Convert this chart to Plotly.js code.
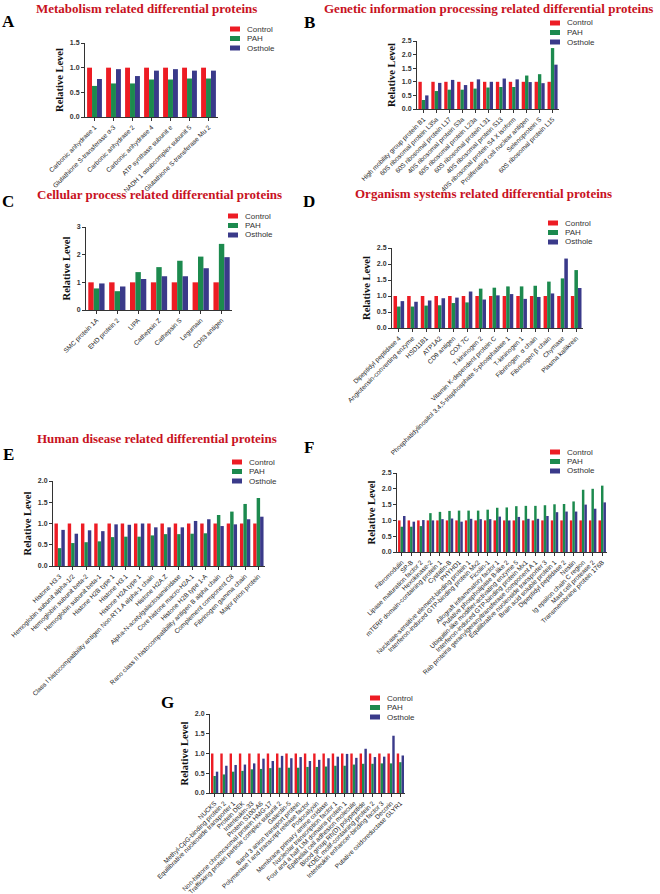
<!DOCTYPE html>
<html>
<head>
<meta charset="utf-8">
<script src="https://cdn.plot.ly/plotly-3.0.1.min.js"></script>
<style>body{margin:0;background:#fff;}</style>
</head>
<body>
<div id="fig" style="width:660px;height:894px"></div>
<script>
var series = ['Control', 'PAH', 'Osthole'];

// A - metabolism
var catA = ['Carbonic anhydrase 1', 'Glutathione S-transferase α-3', 'Carbonic anhydrase 2', 'Carbonic anhydrase 4',
    'ATP synthase subunit e', 'NADH 1 αsubcomplex subunit 5', 'Glutathione S-transferase Mu 2'];
var ctrlA = [1, 1, 1, 1, 1, 1, 1];
var pahA = [0.63, 0.68, 0.68, 0.76, 0.76, 0.78, 0.78];
var ostA = [0.77, 0.97, 0.83, 0.94, 0.97, 0.94, 0.94];

// B - genetic information processing
var catB = ['High mobility group protein B1', '60S ribosomal protein L35a', '60S ribosomal protein L17',
    '40S ribosomal protein S3a', '60S ribosomal protein L23a', '60S ribosomal protein L31', '40S ribosomal protein S13',
    '40S ribosomal protein S4 X isoform', 'Proliferating cell nuclear antigen', 'Selenoprotein S', '60S ribosomal protein L15'];
var ctrlB = [1, 1, 1, 1, 1, 1, 1, 1, 1, 1, 1];
var pahB = [0.33, 0.66, 0.71, 0.71, 0.75, 0.79, 0.81, 0.81, 1.23, 1.28, 2.24];
var ostB = [0.5, 0.96, 1.07, 0.88, 1.09, 1.0, 1.12, 1.09, 0.99, 0.95, 1.63];

// C - cellular process
var catC = ['SMC protein 1A', 'EHD protein 2', 'LIPA', 'Cathepsin Z', 'Cathepsin S', 'Legumain', 'CD63 antigen'];
var ctrlC = [1, 1, 1, 1, 1, 1, 1];
var pahC = [0.78, 0.68, 1.37, 1.55, 1.78, 1.93, 2.39];
var ostC = [0.96, 0.85, 1.12, 1.22, 1.22, 1.51, 1.91];

// D - organism systems
var catD = ['Dipeptidyl peptidase 4', 'Angiotensin-converting enzyme', 'HSD11B1', 'ATP1A2', 'CD9 antigen', 'COX 7C',
    'T-kininogen 2', 'Vitamin K-dependent protein C', 'Phosphatidylinositol 3,4,5-trisphosphate 5-phosphatase 1',
    'T-kininogen 1', 'Fibrinogen  α chain', 'Fibrinogen β chain', 'Chymase', 'Plasma kallikrein'];
var ctrlD = [1, 1, 1, 1, 1, 1, 1, 1, 1, 1, 1, 1, 1, 1];
var pahD = [0.67, 0.67, 0.70, 0.71, 0.78, 0.80, 1.23, 1.26, 1.30, 1.30, 1.32, 1.45, 1.55, 1.81];
var ostD = [0.84, 0.82, 0.86, 0.93, 0.95, 1.14, 0.89, 1.02, 1.06, 0.91, 0.97, 1.08, 2.17, 1.25];

// E - human disease
var catE = ['Histone H3.3', 'Hemoglobin subunit alpha-1/2', 'Hemoglobin subunit beta-2', 'Hemoglobin subunit beta-1',
    'Histone H2B type 1', 'Histone H3.1', 'Histone H2A type 1', 'Class I histocompatibility antigen Non-RT1.A alpha-1 chain',
    'Histone H2A.Z', 'Alpha-N-acetylgalactosaminidase', 'Core histone macro-H2A.1', 'Histone H2B type 1-A',
    'Rano class II histocompatibility antigen B alpha chain', 'Complement component C8', 'Fibrinogen gamma chain',
    'Major prion protein'];
var ctrlE = [1, 1, 1, 1, 1, 1, 1, 1, 1, 1, 1, 1, 1, 1, 1, 1];
var pahE = [0.42, 0.54, 0.56, 0.58, 0.68, 0.69, 0.69, 0.72, 0.75, 0.75, 0.76, 0.77, 1.2, 1.28, 1.46, 1.6];
var ostE = [0.85, 0.76, 0.84, 0.82, 0.98, 0.97, 1.0, 0.91, 0.91, 0.91, 1.06, 1.10, 0.94, 0.98, 1.10, 1.16];

// F
var catF = ['Fibromodulin', 'SP-B', 'Lipase maturation factor 2', 'Hexokinase-2', 'mTERF domain-containing protein 1',
    'Cystatin-B', 'PHYHD1', 'Nuclease-sensitive element-binding protein 1', 'Interferon-induced GTP-binding protein Mx2',
    'Ficolin-1', 'Allograft inflammatory factor 1', 'Putative phospholipase B-like 2',
    'Ubiquitin-like modifier-activating enzyme 5', 'Interferon-induced GTP-binding protein Mx1',
    'Rab proteins geranylgeranyltransferase component A 1', 'Equilibrative nucleoside transporter 3',
    'Brain acid soluble protein 1', 'Dipeptidyl peptidase 2', 'Nestin', 'Ig epsilon chain C region',
    'Mast cell protease 2', 'Transmembrane protein 176B'];
var ctrlF = [1, 1, 1, 1, 1, 1, 1, 1, 1, 1, 1, 1, 1, 1, 1, 1, 1, 1, 1, 1, 1, 1];
var pahF = [0.8, 0.8, 0.82, 1.23, 1.27, 1.3, 1.31, 1.31, 1.31, 1.34, 1.4, 1.41, 1.45, 1.46, 1.46, 1.48, 1.51, 1.52,
    1.6, 1.97, 2.0, 2.1];
var ostF = [1.14, 0.96, 1.01, 1.0, 1.04, 1.06, 0.96, 1.05, 1.04, 1.04, 1.12, 1.0, 1.11, 1.05, 1.05, 1.14, 1.26, 1.28,
    1.28, 1.5, 1.37, 1.57];

// G
var catG = ['NUCKS', 'Methyl-CpG-binding protein 2', 'Equilibrative nucleoside transporter 1', 'Protein DEK',
    'Interleukin-33', 'Protein S100-A6', 'Non-histone chromosomal protein HMG-17',
    'Trafficking protein particle complex subunit 2', 'Galectin-5', 'Band 3 anion transport protein',
    'Polymerase I and transcript release factor', 'Podocalyxin', 'Membrane primary amine oxidase',
    'Nucleolar transcription factor 1', 'Four and a half LIM domains protein 1', 'Epithelial cell adhesion molecule',
    'Blood group Rh(D) polypeptide', 'KDEL motif-containing protein 2', 'Interleukin enhancer-binding factor 3',
    'Decorin', 'Putative oxidoreductase GLYR1'];
var ctrlG = [1, 1, 1, 1, 1, 1, 1, 1, 1, 1, 1, 1, 1, 1, 1, 1, 1, 1, 1, 1, 1];
var pahG = [0.43, 0.47, 0.54, 0.56, 0.6, 0.61, 0.63, 0.64, 0.64, 0.64, 0.66, 0.66, 0.67, 0.69, 0.69, 0.72, 0.74,
    0.74, 0.75, 0.75, 0.78];
var ostG = [0.54, 0.69, 0.71, 0.72, 0.75, 0.87, 0.81, 0.94, 0.88, 0.91, 0.81, 0.84, 0.88, 0.92, 0.99, 0.89, 1.12,
    0.91, 0.92, 1.45, 0.95];

var W = 660, H = 894;
var colors = ['rgb(237, 28, 36)', 'rgb(28, 138, 78)', 'rgb(58, 58, 138)'];
var serif = 'Liberation Serif, Times New Roman, serif';
var sans = 'Liberation Sans, Arial, sans-serif';

// pixel boxes of each panel: plot area [x0, x1, y0, y1]
var panels = [
    {cat: catA, vals: [ctrlA, pahA, ostA], box: [85, 218, 43, 117], ymax: 1.5, dtick: 0.5, fmt: '.1f',
        title: 'Metabolism related differential proteins', tpos: [146, 8], letter: 'A', lpos: [8, 21], leg: [230, 29]},
    {cat: catB, vals: [ctrlB, pahB, ostB], box: [417, 559, 41, 109], ymax: 2.5, dtick: 0.5, fmt: '.1f',
        title: 'Genetic information processing related differential proteins', tpos: [488, 8], letter: 'B', lpos: [309, 23], leg: [550, 23]},
    {cat: catC, vals: [ctrlC, pahC, ostC], box: [86, 232, 227, 310], ymax: 3, dtick: 1, fmt: 'd',
        title: 'Cellular process related differential proteins', tpos: [159, 195], letter: 'C', lpos: [8, 202], leg: [228, 216]},
    {cat: catD, vals: [ctrlD, pahD, ostD], box: [392, 583, 248, 328], ymax: 2.5, dtick: 0.5, fmt: '.1f',
        title: 'Organism systems related differential proteins', tpos: [483, 194], letter: 'D', lpos: [309, 202], leg: [548, 223]},
    {cat: catE, vals: [ctrlE, pahE, ostE], box: [53, 265, 481, 566], ymax: 2.0, dtick: 0.5, fmt: '.1f',
        title: 'Human disease related differential proteins', tpos: [157, 438], letter: 'E', lpos: [8, 454], leg: [232, 462]},
    {cat: catF, vals: [ctrlF, pahF, ostF], box: [397, 607, 473, 552], ymax: 2.5, dtick: 0.5, fmt: '.1f',
        title: '', tpos: null, letter: 'F', lpos: [309, 447], leg: [550, 452]},
    {cat: catG, vals: [ctrlG, pahG, ostG], box: [210, 405, 714, 793], ymax: 2.0, dtick: 0.5, fmt: '.1f',
        title: '', tpos: null, letter: 'G', lpos: [167, 702], leg: [370, 698]}
];

function fx(x) { return x / W; }
function fy(y) { return 1 - y / H; }

var data = [];
var layout = {
    width: W, height: H,
    margin: {l: 0, r: 0, t: 0, b: 0},
    paper_bgcolor: '#fff', plot_bgcolor: 'rgba(0,0,0,0)',
    showlegend: false,
    barmode: 'group', bargap: 0.22, bargroupgap: 0,
    annotations: [], shapes: []
};

for (var p = 0; p < panels.length; p++) {
    var pn = panels[p];
    var n = p === 0 ? '' : String(p + 1);

    for (var s = 0; s < 3; s++) {
        data.push({
            type: 'bar', x: pn.cat, y: pn.vals[s], name: series[s],
            xaxis: 'x' + n, yaxis: 'y' + n,
            marker: {color: colors[s], line: {width: 0}},
            hoverinfo: 'x+y'
        });
    }

    layout['xaxis' + n] = {
        domain: [fx(pn.box[0]), fx(pn.box[1])], anchor: 'y' + n,
        type: 'category', tickangle: -45,
        showline: true, linecolor: '#333', linewidth: 1,
        ticks: 'outside', ticklen: 3, tickwidth: 1, tickcolor: '#333',
        showgrid: false, zeroline: false,
        tickfont: {family: sans, size: 6.5, color: '#222'}
    };
    layout['yaxis' + n] = {
        domain: [fy(pn.box[3]), fy(pn.box[2])], anchor: 'x' + n,
        range: [0, pn.ymax], dtick: pn.dtick, tick0: 0, tickformat: pn.fmt,
        showline: true, linecolor: '#333', linewidth: 1,
        ticks: 'outside', ticklen: 3, tickwidth: 1, tickcolor: '#333',
        showgrid: false, zeroline: false,
        tickfont: {family: sans, size: 7, color: '#333', weight: 'bold'},
        title: {text: 'Relative Level', standoff: 4,
            font: {family: serif, size: 10.5, color: '#111', weight: 'bold'}}
    };

    // red panel title
    if (pn.title) {
        layout.annotations.push({
            text: pn.title, xref: 'paper', yref: 'paper', x: fx(pn.tpos[0]), y: fy(pn.tpos[1]),
            xanchor: 'center', yanchor: 'middle', showarrow: false,
            font: {family: serif, size: 13, color: 'rgb(200, 18, 30)', weight: 'bold'}
        });
    }
    // panel letter
    layout.annotations.push({
        text: pn.letter, xref: 'paper', yref: 'paper', x: fx(pn.lpos[0]), y: fy(pn.lpos[1]),
        xanchor: 'center', yanchor: 'middle', showarrow: false,
        font: {family: serif, size: 17, color: '#000', weight: 'bold'}
    });

    // small legend: swatch + label, rows ~9.5px apart
    for (s = 0; s < 3; s++) {
        var ly = pn.leg[1] + s * 9.5;
        layout.shapes.push({
            type: 'rect', xref: 'paper', yref: 'paper',
            x0: fx(pn.leg[0]), x1: fx(pn.leg[0] + 10), y0: fy(ly + 2.5), y1: fy(ly - 2.5),
            fillcolor: colors[s], line: {width: 0}
        });
        layout.annotations.push({
            text: series[s], xref: 'paper', yref: 'paper', x: fx(pn.leg[0] + 15), y: fy(ly),
            xanchor: 'left', yanchor: 'middle', showarrow: false,
            font: {family: sans, size: 8, color: '#333'}
        });
    }
}

Plotly.newPlot('fig', data, layout, {staticPlot: true});
</script>
</body>
</html>
